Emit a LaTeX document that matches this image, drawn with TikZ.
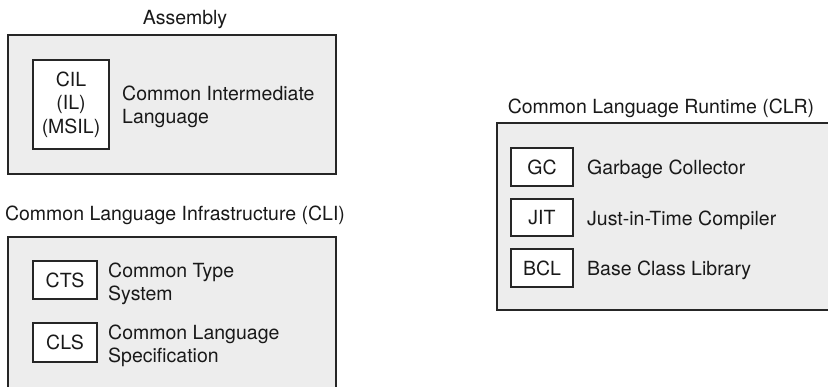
\documentclass[tikz,border=0pt]{standalone}
\usepackage{fontspec}
\setmainfont{TeX Gyre Heros}
\begin{document}
\begin{tikzpicture}[x=1pt,y=-1pt,
  every node/.style={font=\fontsize{19.5}{23.5}\selectfont, text=black!90},
  group/.style={draw=black!85, fill=black!7, line width=1.4pt, rectangle, inner sep=0pt},
  abbr/.style={draw=black!85, fill=white, line width=1.3pt, rectangle, inner sep=0pt, align=center},
  title/.style={anchor=base, inner sep=0pt},
  desc/.style={anchor=base west, inner sep=0pt, align=left}]
\useasboundingbox (0,0) rectangle (828,386);
\clip (0,0) rectangle (828,386);

% Assembly (description anchored at the baseline of its last line)
\node[title] (asmT) at (185,24) {Assembly};
\node[group, minimum width=328pt, minimum height=139pt] (asm) at (172,104.5) {};
\node[abbr, minimum width=76pt, minimum height=89pt] (cil) at (71,104.5) {CIL\\(IL)\\(MSIL)};
\node[desc] (cilD) at (122,123.5) {Common Intermediate\\Language};

% Common Language Infrastructure
\node[title] (cliT) at (175,220) {Common Language Infrastructure (CLI)};
\node[group, minimum width=328pt, minimum height=180pt] (cli) at (172,327) {};
\node[abbr, minimum width=64pt, minimum height=38pt] (cts) at (65,280) {CTS};
\node[desc] (ctsD) at (108,300.5) {Common Type\\System};
\node[abbr, minimum width=64pt, minimum height=39pt] (cls) at (65,342.5) {CLS};
\node[desc] (clsD) at (108,362.5) {Common Language\\Specification};

% Common Language Runtime
\node[title] (clrT) at (661,113) {Common Language Runtime (CLR)};
\node[group, minimum width=340pt, minimum height=187pt] (clr) at (667,216.5) {};
\node[abbr, minimum width=62pt, minimum height=38pt] (gc) at (542,167) {GC};
\node[desc] (gcD) at (587,174) {Garbage Collector};
\node[abbr, minimum width=62pt, minimum height=37pt] (jit) at (542,217.5) {JIT};
\node[desc] (jitD) at (587,225) {Just-in-Time Compiler};
\node[abbr, minimum width=62pt, minimum height=38pt] (bcl) at (542,268) {BCL};
\node[desc] (bclD) at (587,275) {Base Class Library};
\end{tikzpicture}
\end{document}
